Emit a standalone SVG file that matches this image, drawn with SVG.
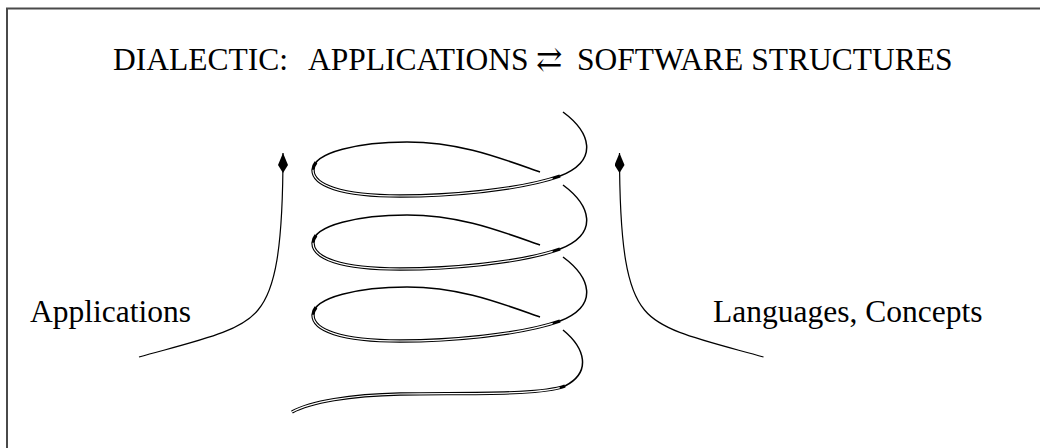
<svg xmlns="http://www.w3.org/2000/svg" xmlns:xlink="http://www.w3.org/1999/xlink" width="1040" height="448" viewBox="0 0 1040 448">
  <style>
    .lbl { font-family: "Liberation Serif", "Times New Roman", "DejaVu Serif", serif; font-size: 31.5px; fill: #000; white-space: pre; }
    .sym { font-family: "DejaVu Serif", "Liberation Serif", serif; }
    .frame { fill: none; stroke: #4a4a4a; stroke-width: 2; }
    .thin { fill: none; stroke: #000; stroke-width: 1.5; }
    .conn { fill: none; stroke: #000; stroke-width: 1.2; }
    .dbl-out { fill: none; stroke: #000; stroke-width: 3.4; }
    .dbl-in { fill: none; stroke: #fff; stroke-width: 1.2; }
  </style>
  <defs>
    <marker id="kite" viewBox="0 0 20 10" refX="20" refY="5" markerWidth="20" markerHeight="10" markerUnits="userSpaceOnUse" orient="auto">
      <path d="M20,5 L8,0 L0,5 L8,10 Z" fill="#000"/>
    </marker>
    <!-- one turn of the spiral: back strand single, front strand drawn as a doubled line -->
    <g id="turn">
      <path class="thin" d="M563,112 C590,132 600,160 560,176 C520,190 450,196 400,196 C340,196 313,185 313,170 C313,152 360,142 407,142 C460,142 500,158 540,172"/>
      <path class="dbl-out" d="M560,176 C520,190 450,196 400,196 C340,196 313,185 313,170 C313,167.3 314.06,164.78 316,162.4"/>
      <path class="dbl-in" pathLength="100" stroke-dasharray="0 3 94 3" d="M560,176 C520,190 450,196 400,196 C340,196 313,185 313,170 C313,167.3 314.06,164.78 316,162.4"/>
    </g>
  </defs>

  <rect class="frame" x="7" y="8.5" width="1100" height="500"/>

  <g id="title">
    <text class="lbl" y="70"><tspan x="113">DIALECTIC:</tspan><tspan x="308">APPLICATIONS</tspan><tspan class="sym" x="536">⇄</tspan><tspan x="577">SOFTWARE STRUCTURES</tspan></text>
  </g>

  <g id="applications">
    <text class="lbl" x="30" y="322">Applications</text>
  </g>

  <g id="languages">
    <text class="lbl" x="713" y="322">Languages, Concepts</text>
  </g>

  <g id="spiral">
    <use xlink:href="#turn"/>
    <use xlink:href="#turn" transform="translate(0,73)"/>
    <use xlink:href="#turn" transform="translate(0,145)"/>
    <path class="thin" d="M563,330 C585,348 592,372 565,386 C540,395 480,393 400,394 C350,395 310,402 292,412"/>
    <path class="dbl-out" d="M565,386 C540,395 480,393 400,394 C350,395 310,402 292,412"/>
    <path class="dbl-in" pathLength="100" stroke-dasharray="0 2 98" d="M565,386 C540,395 480,393 400,394 C350,395 310,402 292,412"/>
  </g>

  <g id="connectors">
    <path class="conn" marker-end="url(#kite)" d="M139,357 C200,340 240,332 258,310 C275,290 283,250 283,153"/>
    <path class="conn" marker-end="url(#kite)" d="M763.5,357 C702.5,340 662.5,332 644.5,310 C627.5,290 619.5,250 619.5,153"/>
  </g>
</svg>
